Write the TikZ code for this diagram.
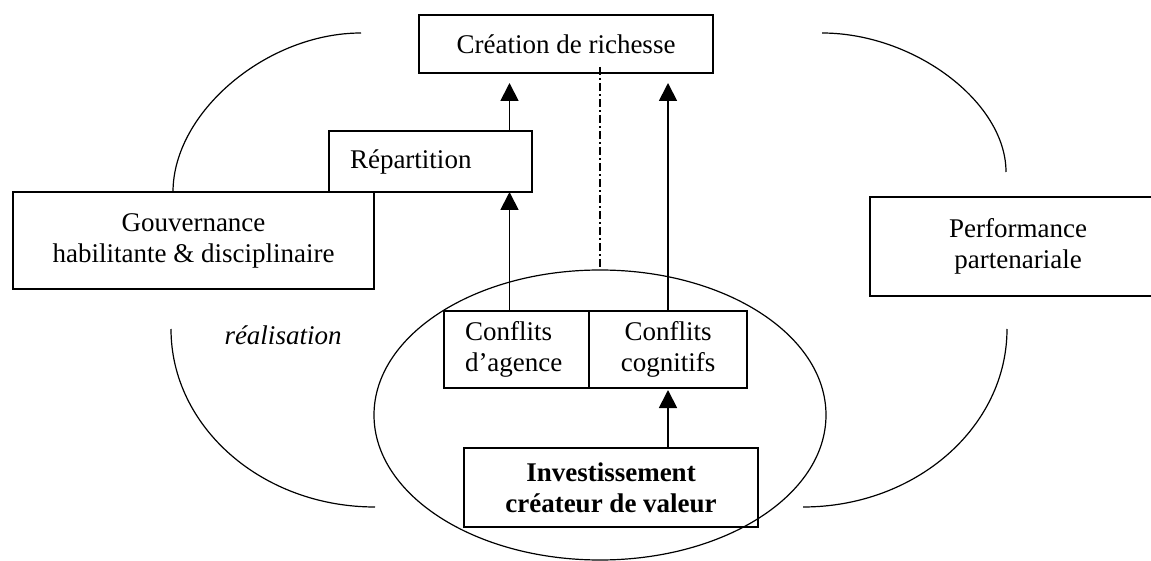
\documentclass[tikz,border=0pt]{standalone}
\usepackage{fontspec}
\setmainfont{Liberation Serif}
\usetikzlibrary{arrows.meta,shapes.geometric}

\begin{document}
\begin{tikzpicture}[x=0.5pt, y=-0.5pt,
  every node/.style={font=\fontsize{13.5}{15.5}\selectfont},
  box/.style={draw, line width=1pt, inner sep=0pt, outer sep=0pt, align=center},
  gras/.style={font=\fontsize{13.5}{15.5}\selectfont\bfseries},
  fleche/.style={-{Triangle[length=9pt,width=9pt]}, line width=0.9pt},
  boucle/.style={line width=0.6pt}]
  \useasboundingbox (0,0) rectangle (1151,561);
  \clip (0,0) rectangle (1151,561);

  \node [box, minimum width=147pt, minimum height=29pt] (creation) at (566,44) {Création de richesse};
  \node [box, minimum width=101.5pt, minimum height=30.5pt, inner xsep=10.5pt, text width=80.5pt, align=left] (repart) at (430.5,161.5) {Répartition};
  \node [box, minimum width=180.5pt, minimum height=48.5pt] (gouv) at (193.5,240.5) {Gouvernance\\habilitante \& disciplinaire};
  \node [box, minimum width=148pt, minimum height=49.5pt] (perf) at (1018,246.5) {Performance\\partenariale};

  \node [box, ellipse, boucle, minimum width=226pt, minimum height=145pt] (cadre) at (600,415) {};
  \node [box, minimum width=72.5pt, minimum height=38.5pt, inner xsep=10.5pt, text width=51.5pt, align=left] (agence) at (516.5,349.5) {Conflits\\d’agence};
  \node [box, minimum width=79pt, minimum height=38.5pt] (cognitif) at (668,349.5) {Conflits\\cognitifs};
  \node [box, gras, minimum width=147pt, minimum height=39.5pt] (invest) at (611,487.5) {Investissement\\créateur de valeur};

  \node [font=\fontsize{13.5}{15.5}\selectfont\itshape] (real) at (283,335) {réalisation};

  \draw [boucle] (361,33) .. controls (267,33) and (173,112) .. (173,192);
  \draw [boucle] (822,33) .. controls (914,33) and (1006,102) .. (1006,172);
  \draw [boucle] (171,329) .. controls (171,427) and (262,507) .. (375,507);
  \draw [boucle] (1007,329) .. controls (1007,427) and (916,507) .. (803,507);

  \coordinate (axe) at (509.5,0);
  \draw [fleche] (agence.north -| axe) -- (repart.south -| axe);
  \draw [fleche, shorten >=5pt] (repart.north -| axe) -- (creation.south -| axe);
  \draw [fleche, shorten >=5pt] (cognitif.north) -- (creation.south -| cognitif.north);
  \draw [fleche] (invest.north -| cognitif.south) -- ([yshift=-1pt]cognitif.south);

  \draw [boucle, dash pattern=on 4pt off 1.5pt on 1pt off 1.5pt] ([yshift=3pt]cadre.north |- creation.south) -- (cadre.north);
\end{tikzpicture}
\end{document}
